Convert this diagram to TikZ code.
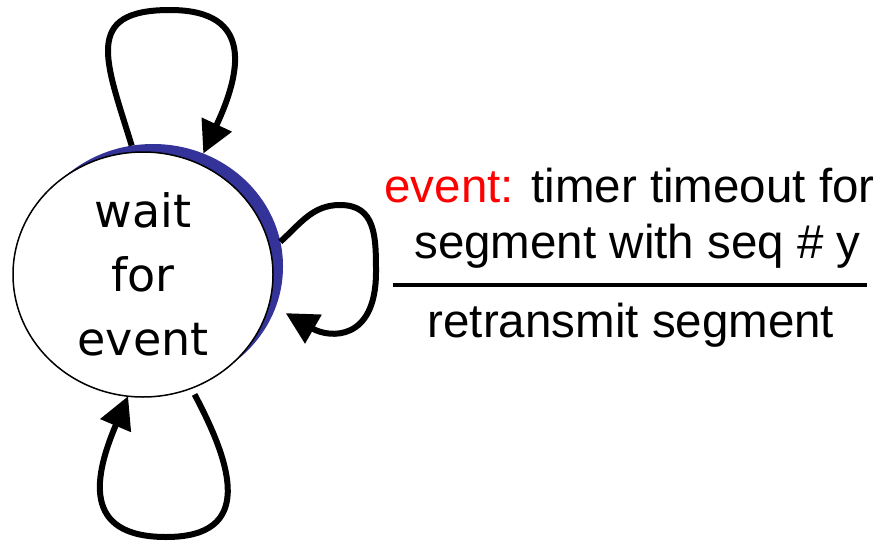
\documentclass[tikz,border=0pt]{standalone}
\usepackage{fontspec}
\usetikzlibrary{arrows.meta,shapes.geometric}
\newfontfamily\statefont{DejaVu Sans}
\newfontfamily\labelfont{Liberation Sans}
\definecolor{shadeblue}{RGB}{51,51,153}
\definecolor{eventred}{RGB}{255,0,0}
\begin{document}
\begin{tikzpicture}[x=1pt,y=1pt,
  statenode/.style={ellipse, minimum width=260pt, minimum height=245pt, inner sep=0pt, outer sep=0pt},
  selfloop/.style={line width=6pt, -{Triangle[length=32pt,width=32pt]}},
  labeltext/.style={anchor=base, font=\labelfont\fontsize{47.5}{57}\selectfont}]
\useasboundingbox (0,0) rectangle (882,542);
% ====================
% State: blue shade behind, white ellipse on top
\node[statenode, fill=shadeblue] (shade) at (153,275.5) {};
\node[statenode, draw, line width=1.5pt, fill=white, align=center,
  font=\statefont\fontsize{46}{64}\selectfont] (wait) at (143,267.5) {wait\\for\\event};

% ====================
% Self-loops
% Top loop
\draw[selfloop] (shade.100) to[out=107,in=180,looseness=1.6] (170,532)
  to[out=0,in=65,looseness=1.5] (shade.66);
% Right loop (timeout)
\draw[selfloop, shorten >=19pt] (shade.11) to[out=42,in=180] (340,337)
  to[out=0,in=90,looseness=1.2] (376,270) to[out=-90,in=-30,looseness=1.6] (wait.-13);
% Bottom loop
\draw[selfloop, shorten <=7pt] (wait.-67) to[out=-62,in=0,looseness=1.5] (166,5)
  to[out=180,in=-113,looseness=1.5] (wait.-97);

% ====================
% Transition label: event over action
\node[labeltext] (ev) at (629.5,340) {\textcolor{eventred}{event:} timer timeout for};
\node[labeltext] (seg) at (637.5,284) {segment with seq \# y};
\draw[line width=4pt] (393,257) -- (867,257);
\node[labeltext] (act) at (631,205) {retransmit segment};

\end{tikzpicture}
\end{document}
